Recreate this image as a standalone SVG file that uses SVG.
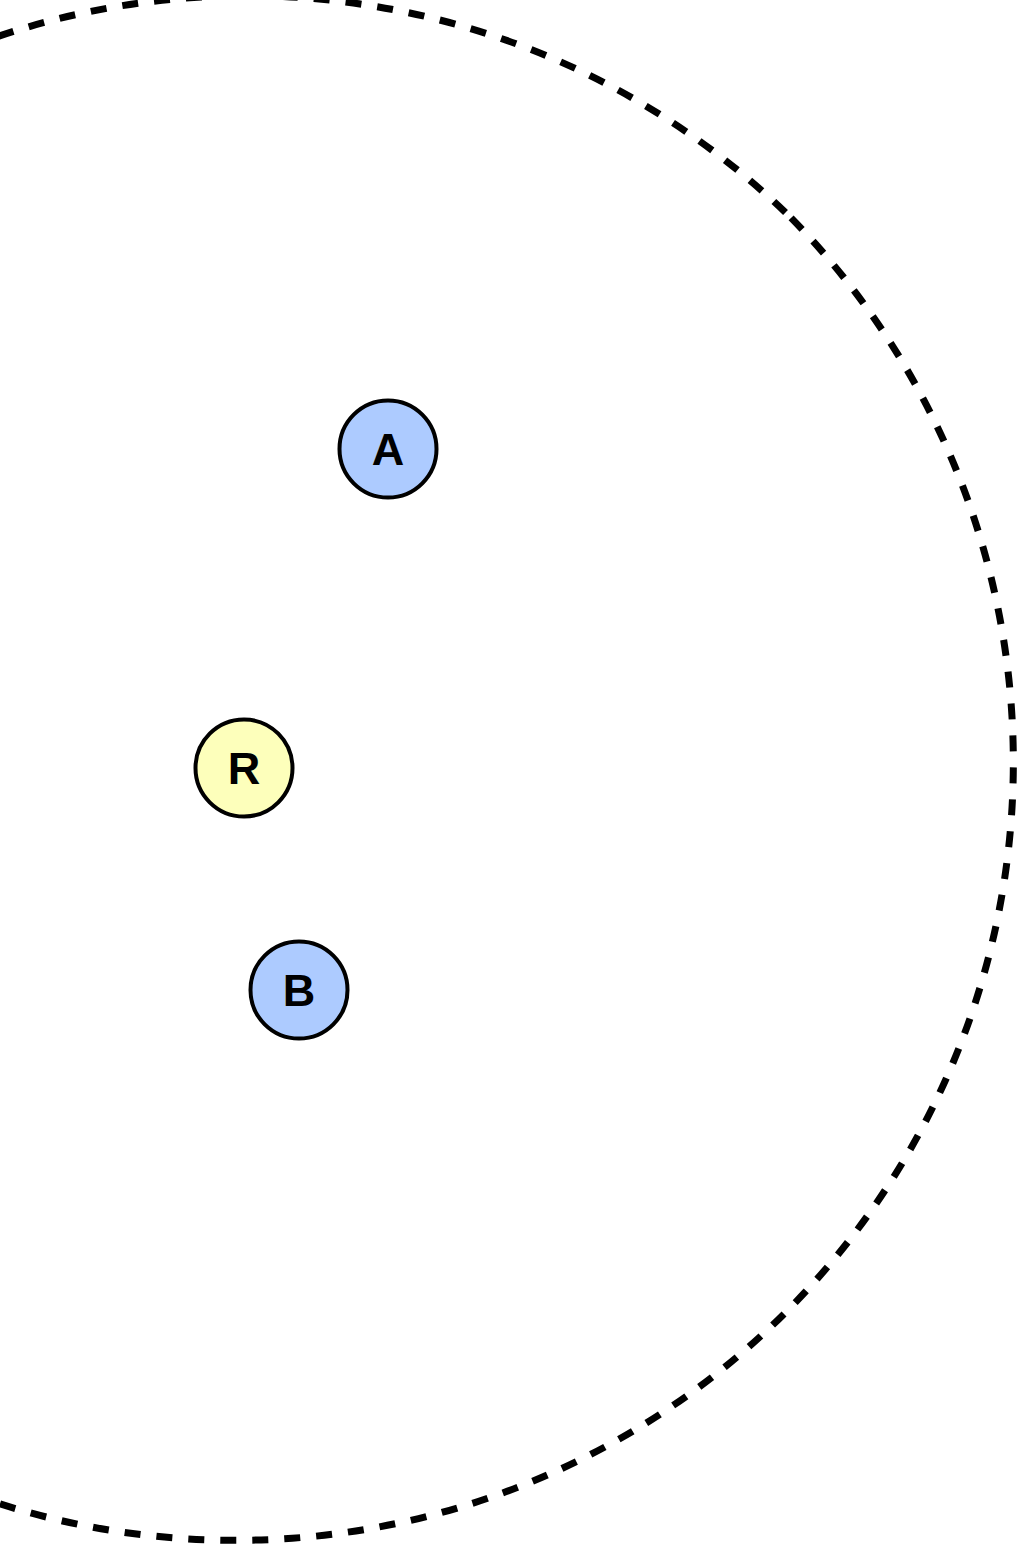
<svg xmlns="http://www.w3.org/2000/svg" width="1024" height="1552" viewBox="0 0 1024 1552">
<style>
.ring{fill:none;stroke:#000;stroke-width:7;stroke-dasharray:16 16}
.node{stroke:#000;stroke-width:4}
.blue{fill:#adcbff}
.yellow{fill:#fdffbb}
.lbl{font-family:"Liberation Sans",Arial,sans-serif;font-weight:bold;font-size:45px;text-anchor:middle;fill:#000}
</style>
<rect width="1024" height="1552" fill="#fff"/>
<g id="connectors"></g>
<g id="boundary">
<path class="ring" d="M 791.1 217.9 A 778 778 0 0 1 -309.1 1318.1 A 778 778 0 0 1 791.1 217.9" />
</g>
<g id="node-A">
<circle class="node blue" cx="388" cy="449" r="48.5"/>
<text class="lbl" x="388" y="465">A</text>
</g>
<g id="node-R">
<circle class="node yellow" cx="244" cy="768" r="48.5"/>
<text class="lbl" x="244" y="784">R</text>
</g>
<g id="node-B">
<circle class="node blue" cx="299" cy="990" r="48.5"/>
<text class="lbl" x="299" y="1006">B</text>
</g>
</svg>
